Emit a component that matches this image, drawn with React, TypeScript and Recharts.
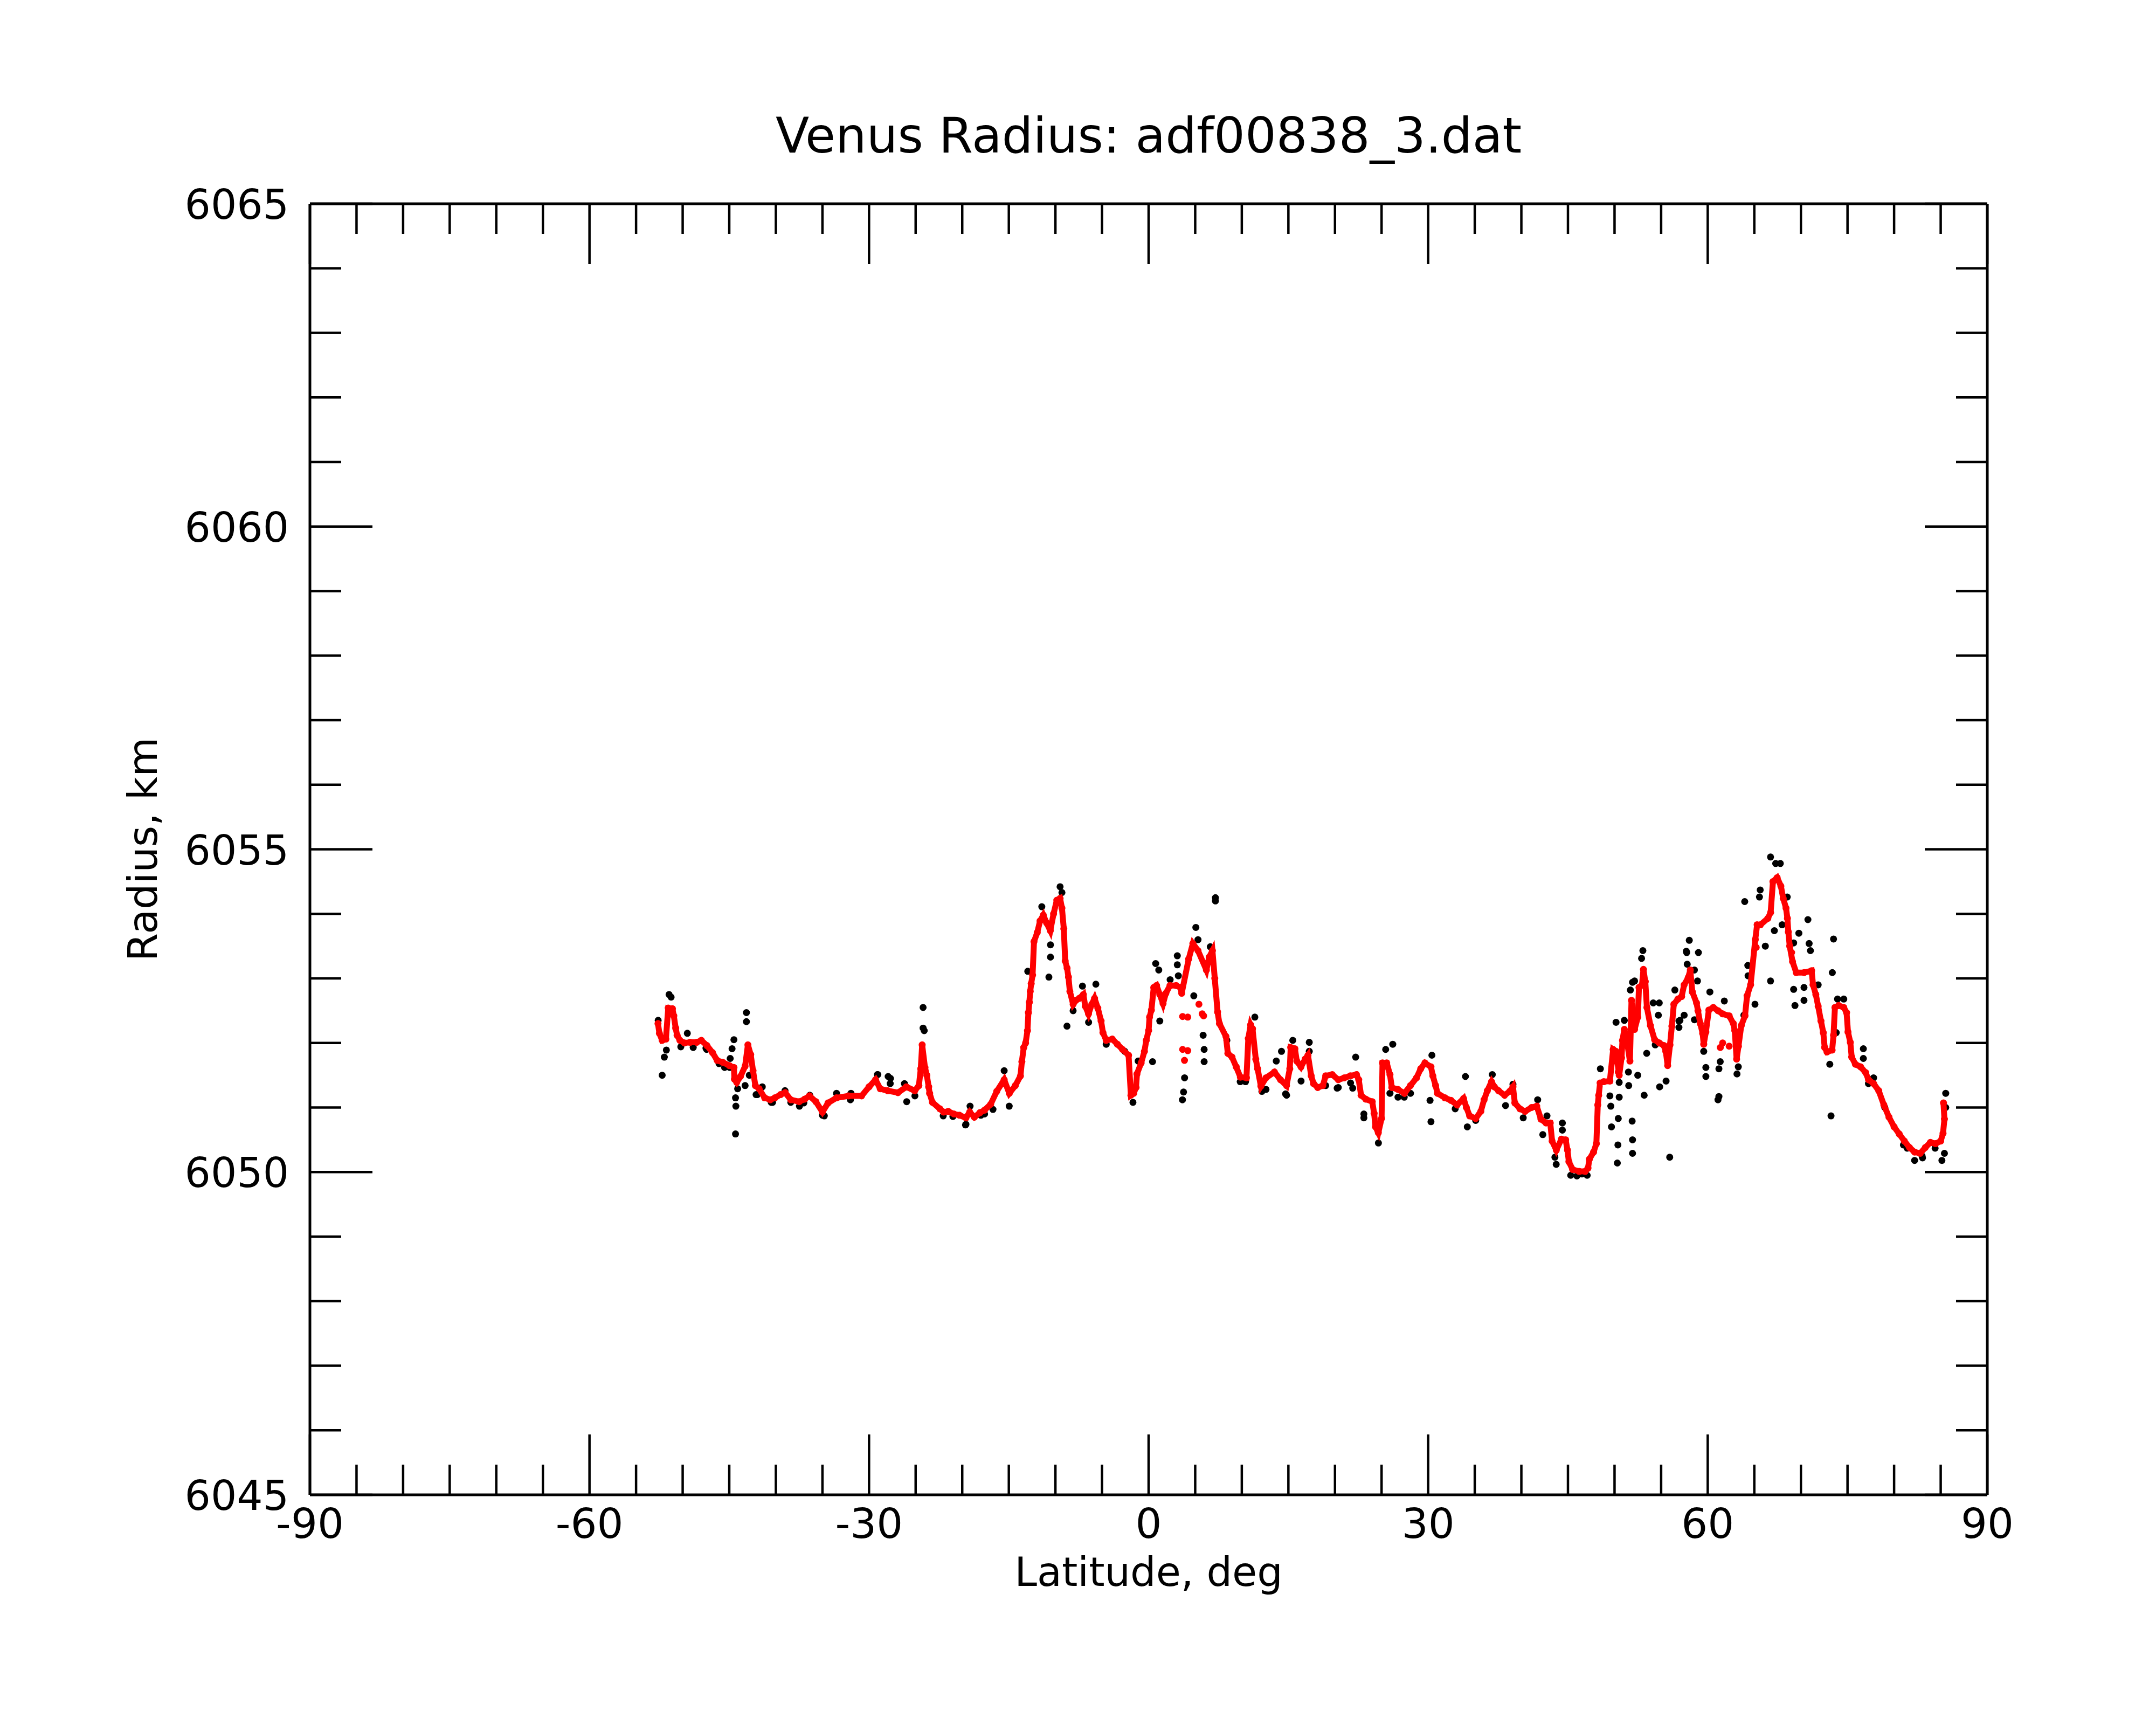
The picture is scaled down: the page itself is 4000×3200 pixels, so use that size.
import { ScatterChart, Scatter, XAxis, YAxis } from "recharts";

// axis ticks
const latTicks = [
  -90, -85, -80, -75, -70, -65, -60, -55, -50, -45, -40, -35, -30, -25, -20, -15, -10, -5,
  0, 5, 10, 15, 20, 25, 30, 35, 40, 45, 50, 55, 60, 65, 70, 75, 80, 85, 90,
];
const latLabels = [-90, -60, -30, 0, 30, 60, 90];
const radiusTicks = [
  6045, 6046, 6047, 6048, 6049, 6050, 6051, 6052, 6053, 6054, 6055,
  6056, 6057, 6058, 6059, 6060, 6061, 6062, 6063, 6064, 6065,
];
const radiusLabels = [6045, 6050, 6055, 6060, 6065];

// smoothed radius (red), [latitude, radius km]
const smoothedTrack: [number, number][] = [
  [-52.65, 6052.3], [-52.5, 6052.15], [-52.2, 6052.04], [-51.8, 6052.06], [-51.55, 6052.54],
  [-51.1, 6052.53], [-50.95, 6052.42], [-50.75, 6052.23], [-50.6, 6052.12], [-50.3, 6052.04],
  [-49.8, 6052.0], [-49.2, 6052.01], [-48.5, 6052.01], [-48.0, 6052.04], [-47.4, 6051.96],
  [-46.8, 6051.85], [-46.3, 6051.73], [-45.7, 6051.7], [-45.0, 6051.65], [-44.5, 6051.62],
  [-44.45, 6051.44], [-44.2, 6051.39], [-43.8, 6051.48], [-43.3, 6051.64], [-43.0, 6051.97],
  [-42.7, 6051.82], [-42.45, 6051.57], [-42.2, 6051.34], [-41.8, 6051.29], [-41.2, 6051.15],
  [-40.6, 6051.12], [-40.1, 6051.15], [-39.5, 6051.2], [-39.0, 6051.23], [-38.4, 6051.12],
  [-37.5, 6051.09], [-36.9, 6051.13], [-36.4, 6051.18], [-35.7, 6051.09], [-35.0, 6050.93],
  [-34.4, 6051.07], [-33.5, 6051.15], [-32.2, 6051.18], [-30.8, 6051.18], [-30.0, 6051.32],
  [-29.3, 6051.43], [-28.8, 6051.29], [-28.0, 6051.26], [-26.9, 6051.23], [-26.0, 6051.32],
  [-25.1, 6051.26], [-24.65, 6051.34], [-24.45, 6051.6], [-24.3, 6051.97], [-24.0, 6051.62],
  [-23.8, 6051.5], [-23.6, 6051.32], [-23.5, 6051.22], [-23.2, 6051.08], [-22.4, 6050.98],
  [-22.0, 6050.93], [-21.5, 6050.94], [-20.9, 6050.9], [-20.3, 6050.88], [-19.6, 6050.84],
  [-19.2, 6050.93], [-18.7, 6050.85], [-18.1, 6050.92], [-17.6, 6050.96], [-16.95, 6051.05],
  [-16.3, 6051.25], [-15.5, 6051.43], [-14.95, 6051.22], [-14.3, 6051.34], [-13.75, 6051.49],
  [-13.6, 6051.71], [-13.4, 6051.93], [-13.2, 6052.0], [-13.0, 6052.19], [-12.9, 6052.47],
  [-12.8, 6052.63], [-12.7, 6052.8], [-12.6, 6052.92], [-12.45, 6053.05], [-12.3, 6053.57],
  [-11.95, 6053.71], [-11.65, 6053.89], [-11.3, 6053.98], [-10.95, 6053.86], [-10.55, 6053.74],
  [-10.2, 6054.0], [-9.85, 6054.21], [-9.5, 6054.24], [-9.3, 6054.09], [-9.1, 6053.77],
  [-8.95, 6053.27], [-8.75, 6053.16], [-8.6, 6053.02], [-8.45, 6052.8], [-8.1, 6052.6],
  [-7.8, 6052.66], [-7.45, 6052.69], [-7.0, 6052.75], [-6.8, 6052.57], [-6.45, 6052.45],
  [-6.1, 6052.6], [-5.8, 6052.69], [-5.45, 6052.54], [-5.1, 6052.34], [-4.9, 6052.16],
  [-4.55, 6052.04], [-3.9, 6052.06], [-3.35, 6051.98], [-2.8, 6051.9], [-2.15, 6051.81],
  [-1.9, 6051.19], [-1.6, 6051.22], [-1.35, 6051.31], [-1.25, 6051.52], [-0.8, 6051.69],
  [-0.45, 6051.87], [-0.25, 6052.04], [0.0, 6052.19], [0.1, 6052.4], [0.3, 6052.51],
  [0.55, 6052.86], [0.85, 6052.89], [1.2, 6052.75], [1.55, 6052.61], [1.85, 6052.77],
  [2.3, 6052.89], [2.95, 6052.89], [3.4, 6052.86], [3.55, 6052.77], [4.3, 6053.3],
  [4.75, 6053.54], [5.3, 6053.43], [6.2, 6053.13], [6.5, 6053.33], [6.85, 6053.43],
  [7.1, 6053.0], [7.4, 6052.48], [7.6, 6052.3], [8.3, 6052.1], [8.5, 6051.84],
  [8.95, 6051.78], [9.4, 6051.63], [9.85, 6051.47], [10.5, 6051.46], [10.7, 6052.07],
  [10.95, 6052.28], [11.15, 6052.22], [11.5, 6051.75], [11.7, 6051.6], [12.05, 6051.33],
  [12.6, 6051.46], [13.5, 6051.55], [14.15, 6051.43], [14.8, 6051.34], [15.15, 6051.6],
  [15.25, 6051.93], [15.7, 6051.91], [15.9, 6051.72], [16.35, 6051.63], [16.8, 6051.75],
  [17.1, 6051.81], [17.45, 6051.49], [17.7, 6051.37], [18.15, 6051.31], [18.7, 6051.34],
  [19.0, 6051.49], [19.7, 6051.51], [20.35, 6051.43], [21.0, 6051.46], [21.65, 6051.49],
  [22.3, 6051.51], [22.55, 6051.43], [22.8, 6051.19], [23.3, 6051.13], [24.0, 6051.09],
  [24.2, 6050.91], [24.35, 6050.7], [24.65, 6050.61], [25.0, 6050.83], [25.1, 6051.69],
  [25.55, 6051.69], [25.9, 6051.51], [26.1, 6051.31], [26.75, 6051.28], [27.45, 6051.22],
  [28.1, 6051.34], [28.75, 6051.46], [29.2, 6051.6], [29.65, 6051.69], [30.3, 6051.63],
  [30.5, 6051.49], [30.8, 6051.34], [31.0, 6051.22], [31.8, 6051.15], [32.45, 6051.11],
  [33.1, 6051.04], [33.8, 6051.14], [34.1, 6051.0], [34.45, 6050.87], [35.1, 6050.83],
  [35.65, 6050.94], [36.0, 6051.12], [36.35, 6051.26], [36.8, 6051.4], [37.1, 6051.32],
  [37.55, 6051.26], [38.2, 6051.19], [38.75, 6051.25], [39.1, 6051.32], [39.3, 6051.07],
  [39.85, 6050.98], [40.4, 6050.94], [41.1, 6051.0], [41.65, 6051.02], [42.1, 6050.82],
  [42.65, 6050.76], [43.1, 6050.76], [43.3, 6050.48], [43.75, 6050.34], [44.3, 6050.51],
  [44.75, 6050.5], [44.95, 6050.34], [45.1, 6050.16], [45.5, 6050.04], [46.2, 6050.01],
  [46.85, 6050.01], [47.15, 6050.06], [47.3, 6050.2], [47.75, 6050.31], [48.05, 6050.44],
  [48.2, 6051.04], [48.3, 6051.19], [48.45, 6051.38], [48.85, 6051.4], [49.5, 6051.41],
  [49.85, 6051.9], [50.15, 6051.87], [50.5, 6051.5], [50.75, 6051.77], [50.85, 6052.04],
  [51.05, 6052.21], [51.4, 6051.96], [51.65, 6051.72], [51.82, 6052.66], [52.15, 6052.21],
  [52.5, 6052.4], [52.62, 6052.86], [52.95, 6052.9], [53.1, 6053.14], [53.3, 6052.95],
  [53.47, 6052.55], [53.85, 6052.27], [54.3, 6052.05], [54.8, 6052.0], [55.3, 6051.96],
  [55.5, 6051.87], [55.7, 6051.65], [55.95, 6051.97], [56.15, 6052.26], [56.36, 6052.6],
  [56.8, 6052.68], [57.2, 6052.72], [57.47, 6052.9], [57.9, 6053.01], [58.13, 6053.13],
  [58.35, 6052.79], [58.8, 6052.62], [58.95, 6052.5], [59.2, 6052.3], [59.45, 6052.15],
  [59.57, 6051.98], [59.8, 6052.17], [60.12, 6052.51], [60.6, 6052.55], [61.1, 6052.5],
  [61.6, 6052.45], [62.3, 6052.42], [62.75, 6052.3], [62.9, 6052.19], [63.1, 6051.75],
  [63.3, 6051.95], [63.6, 6052.27], [64.0, 6052.42], [64.22, 6052.73], [64.6, 6052.9],
  [65.1, 6053.6], [65.3, 6053.83], [65.65, 6053.83], [66.45, 6053.93], [66.75, 6054.02],
  [67.0, 6054.5], [67.45, 6054.56], [67.85, 6054.43], [68.1, 6054.24], [68.4, 6054.09],
  [68.55, 6053.93], [68.65, 6053.72], [68.8, 6053.5], [69.1, 6053.26], [69.5, 6053.09],
  [70.35, 6053.09], [71.15, 6053.12], [71.3, 6052.9], [71.6, 6052.75], [71.85, 6052.57],
  [72.15, 6052.34], [72.4, 6052.16], [72.55, 6051.93], [72.8, 6051.86], [73.35, 6051.89],
  [73.5, 6052.12], [73.65, 6052.55], [74.05, 6052.58], [74.6, 6052.55], [74.9, 6052.47],
  [75.05, 6052.17], [75.3, 6052.01], [75.45, 6051.78], [75.85, 6051.67], [76.4, 6051.63],
  [76.95, 6051.54], [77.25, 6051.43], [77.8, 6051.37], [78.35, 6051.26], [78.9, 6051.04],
  [79.45, 6050.85], [80.0, 6050.7], [80.55, 6050.59], [81.1, 6050.48], [81.65, 6050.38],
  [82.2, 6050.31], [82.8, 6050.29], [83.35, 6050.38], [83.9, 6050.46], [84.45, 6050.44],
  [85.0, 6050.48], [85.25, 6050.6], [85.4, 6050.82], [85.3, 6051.07],
];

// smoothed points off the main track
const smoothedStray: [number, number][] = [
  [3.65, 6052.41], [4.2, 6052.4], [3.65, 6051.9], [4.2, 6051.88], [3.85, 6051.73],
  [5.4, 6052.6], [5.75, 6052.45], [5.9, 6052.42], [61.35, 6051.93], [61.6, 6052.0],
  [62.3, 6051.95], [63.2, 6051.93], [50.4, 6051.55], [65.2, 6053.48], [69.0, 6053.4],
];

// raw radius (black), [latitude, radius km]
const rawPoints: [number, number][] = [
  [-52.63, 6052.35], [-52.2, 6051.5], [-51.97, 6051.78], [-51.75, 6051.89], [-51.46, 6052.75],
  [-51.24, 6052.71], [-50.2, 6051.94], [-49.5, 6052.15], [-48.87, 6051.93], [-47.5, 6051.92],
  [-47.43, 6051.9], [-46.1, 6051.68], [-45.5, 6051.62], [-44.96, 6051.62], [-44.9, 6051.76],
  [-44.7, 6051.91], [-44.5, 6052.05], [-44.33, 6051.15], [-44.29, 6051.02], [-44.33, 6050.59],
  [-44.1, 6051.29], [-43.3, 6051.34], [-43.16, 6052.47], [-43.16, 6052.33], [-42.85, 6051.5],
  [-42.12, 6051.2], [-42.0, 6051.2], [-41.46, 6051.32], [-40.5, 6051.08], [-40.35, 6051.08],
  [-39.02, 6051.26], [-38.4, 6051.08], [-37.47, 6051.02], [-37.0, 6051.07], [-36.36, 6051.19],
  [-35.0, 6050.88], [-34.8, 6050.87], [-33.49, 6051.22], [-32.0, 6051.12], [-31.94, 6051.22],
  [-29.1, 6051.51], [-29.06, 6051.51], [-27.95, 6051.48], [-27.73, 6051.37], [-27.7, 6051.45],
  [-26.2, 6051.37], [-25.96, 6051.09], [-25.08, 6051.18], [-24.2, 6052.55], [-24.2, 6052.23],
  [-24.08, 6052.19], [-22.04, 6050.87], [-21.0, 6050.86], [-19.65, 6050.73], [-19.6, 6050.74],
  [-19.16, 6051.02], [-18.0, 6050.88], [-17.6, 6050.9], [-16.7, 6050.97], [-15.5, 6051.57],
  [-14.96, 6051.02], [-12.97, 6053.11], [-11.46, 6054.11], [-10.53, 6053.52], [-10.53, 6053.33],
  [-10.7, 6053.02], [-9.5, 6054.42], [-9.3, 6054.33], [-8.76, 6052.26], [-8.1, 6052.5],
  [-7.1, 6052.88], [-6.44, 6052.32], [-5.66, 6052.91], [-4.55, 6051.98], [-2.56, 6051.87],
  [-1.68, 6051.08], [-1.12, 6051.72], [0.42, 6051.71], [0.76, 6053.23], [1.09, 6053.13],
  [1.2, 6052.34], [2.31, 6052.98], [3.08, 6053.35], [3.08, 6053.21], [3.19, 6053.04],
  [3.63, 6051.12], [3.75, 6051.24], [3.86, 6051.46], [4.85, 6052.73], [5.07, 6053.79],
  [5.3, 6053.6], [5.85, 6052.12], [5.96, 6051.9], [5.96, 6051.71], [6.62, 6053.49],
  [7.17, 6054.25], [7.17, 6054.2], [8.4, 6052.04], [9.83, 6051.4], [10.4, 6051.4],
  [11.4, 6052.4], [12.16, 6051.25], [12.6, 6051.28], [13.7, 6051.72], [14.26, 6051.87],
  [14.7, 6051.21], [14.81, 6051.19], [15.47, 6052.04], [16.36, 6051.41], [17.24, 6052.01],
  [17.24, 6051.87], [19.0, 6051.34], [20.23, 6051.3], [20.35, 6051.31], [21.67, 6051.38],
  [21.9, 6051.3], [22.22, 6051.78], [23.1, 6050.9], [23.1, 6050.84], [24.66, 6050.45],
  [25.44, 6051.9], [25.9, 6051.22], [26.2, 6051.98], [26.76, 6051.16], [27.43, 6051.16],
  [28.1, 6051.22], [30.2, 6051.11], [30.3, 6050.78], [30.4, 6051.81], [32.9, 6050.98],
  [34.0, 6051.48], [34.2, 6050.7], [35.1, 6050.8], [36.88, 6051.51], [38.3, 6051.03],
  [39.1, 6051.36], [40.2, 6050.84], [41.75, 6051.12], [42.3, 6050.58], [42.75, 6050.87],
  [43.6, 6050.23], [43.74, 6050.12], [44.4, 6050.76], [44.4, 6050.65], [45.3, 6049.95],
  [45.96, 6049.94], [46.5, 6049.97], [47.06, 6049.95], [48.48, 6051.6], [49.5, 6051.18],
  [49.6, 6051.02], [49.67, 6050.7], [50.16, 6052.32], [50.3, 6050.14], [50.36, 6050.42],
  [50.4, 6050.83], [50.5, 6051.39], [50.5, 6051.16], [51.05, 6052.35], [51.49, 6051.55],
  [51.52, 6051.34], [51.7, 6052.82], [51.89, 6050.79], [51.93, 6050.29], [51.93, 6050.5],
  [51.93, 6052.94], [52.15, 6052.96], [52.49, 6051.5], [52.9, 6053.31], [53.04, 6053.43],
  [53.18, 6051.19], [53.45, 6051.84], [54.15, 6052.62], [54.37, 6051.97], [54.7, 6052.43],
  [54.8, 6052.62], [54.84, 6051.32], [55.53, 6051.41], [55.92, 6050.23], [56.47, 6052.82],
  [56.91, 6052.34], [56.91, 6052.24], [57.02, 6052.35], [57.47, 6052.43], [57.7, 6053.42],
  [57.74, 6053.4], [57.8, 6053.22], [58.02, 6053.59], [58.57, 6053.13], [58.57, 6052.36],
  [58.9, 6052.96], [59.0, 6053.4], [59.57, 6051.87], [59.8, 6051.62], [59.8, 6051.48],
  [60.23, 6052.79], [61.1, 6051.12], [61.2, 6051.17], [61.2, 6051.6], [61.34, 6051.71],
  [61.78, 6052.65], [63.14, 6051.52], [63.28, 6051.63], [63.88, 6052.43], [63.97, 6054.19],
  [64.3, 6053.2], [64.33, 6053.04], [65.07, 6052.6], [65.55, 6054.26], [65.63, 6054.37],
  [66.18, 6053.5], [66.74, 6054.88], [66.74, 6052.96], [67.15, 6053.74], [67.29, 6054.78],
  [67.79, 6054.78], [67.98, 6053.83], [68.53, 6054.26], [69.22, 6053.55], [69.22, 6052.83],
  [69.36, 6052.58], [69.78, 6053.7], [70.33, 6052.86], [70.33, 6052.66], [70.75, 6053.91],
  [70.88, 6053.54], [71.02, 6053.43], [71.85, 6052.9], [73.1, 6051.67], [73.23, 6050.87],
  [73.37, 6053.09], [73.5, 6053.61], [73.79, 6052.16], [73.93, 6052.68], [74.6, 6052.68],
  [76.7, 6051.91], [76.7, 6051.76], [77.25, 6051.37], [77.8, 6051.46], [79.0, 6051.0],
  [81.0, 6050.42], [81.4, 6050.37], [82.2, 6050.18], [83.0, 6050.25], [83.05, 6050.22],
  [84.4, 6050.37], [85.13, 6050.18], [85.4, 6050.29], [85.54, 6051.0], [85.54, 6051.22],
];

const FONT = "'DejaVu Sans', sans-serif";
const TICK_W = 4.5;

const toRows = (pts: [number, number][]) => pts.map(([lat, r]) => ({ lat, r }));

function BottomTick({ x, y, payload }: any) {
  const major = latLabels.includes(payload.value);
  return (
    <g>
      <line x1={x} y1={y} x2={x} y2={y - (major ? 112 : 56)} stroke="#000" strokeWidth={TICK_W} />
      {major && (
        <text x={x} y={y + 80} textAnchor="middle" fontSize={77} fontFamily={FONT} fill="#000">
          {payload.value}
        </text>
      )}
    </g>
  );
}

function TopTick({ x, y, payload }: any) {
  const major = latLabels.includes(payload.value);
  return <line x1={x} y1={y} x2={x} y2={y + (major ? 112 : 56)} stroke="#000" strokeWidth={TICK_W} />;
}

function LeftTick({ x, y, payload }: any) {
  const major = radiusLabels.includes(payload.value);
  return (
    <g>
      <line x1={x} y1={y} x2={x + (major ? 116 : 58)} y2={y} stroke="#000" strokeWidth={TICK_W} />
      {major && (
        <text x={x - 39} y={y + 28} textAnchor="end" fontSize={76} fontFamily={FONT} fill="#000">
          {payload.value}
        </text>
      )}
    </g>
  );
}

function RightTick({ x, y, payload }: any) {
  const major = radiusLabels.includes(payload.value);
  return <line x1={x} y1={y} x2={x - (major ? 116 : 58)} y2={y} stroke="#000" strokeWidth={TICK_W} />;
}

const redDot = (p: any) => <circle cx={p.cx} cy={p.cy} r={6.5} fill="#ff0000" />;
const blackDot = (p: any) => <circle cx={p.cx} cy={p.cy} r={6.5} fill="#000000" />;

const axisLine = { stroke: "#000", strokeWidth: 5 };

export default function App() {
  return (
    <div style={{ position: "absolute", left: 0, top: 0, width: 4000, height: 3200, background: "#fff" }}>
      <ScatterChart width={4000} height={3200} margin={{ top: 368, right: 303, bottom: 227, left: 275 }}>
        <XAxis
          xAxisId="b"
          type="number"
          dataKey="lat"
          domain={[-90, 90]}
          allowDataOverflow
          ticks={latTicks}
          interval={0}
          height={200}
          tickSize={0}
          tickMargin={0}
          tickLine={false}
          axisLine={axisLine}
          tick={(p: any) => <BottomTick {...p} />}
        />
        <XAxis
          xAxisId="t"
          orientation="top"
          type="number"
          dataKey="lat"
          domain={[-90, 90]}
          allowDataOverflow
          ticks={latTicks}
          interval={0}
          height={10}
          tickSize={0}
          tickMargin={0}
          tickLine={false}
          axisLine={axisLine}
          tick={(p: any) => <TopTick {...p} />}
        />
        <YAxis
          yAxisId="l"
          type="number"
          dataKey="r"
          domain={[6045, 6065]}
          allowDataOverflow
          ticks={radiusTicks}
          interval={0}
          width={300}
          tickSize={0}
          tickMargin={0}
          tickLine={false}
          axisLine={axisLine}
          tick={(p: any) => <LeftTick {...p} />}
        />
        <YAxis
          yAxisId="r"
          orientation="right"
          type="number"
          dataKey="r"
          domain={[6045, 6065]}
          allowDataOverflow
          ticks={radiusTicks}
          interval={0}
          width={10}
          tickSize={0}
          tickMargin={0}
          tickLine={false}
          axisLine={axisLine}
          tick={(p: any) => <RightTick {...p} />}
        />
        <Scatter
          name="raw"
          data={toRows(rawPoints)}
          xAxisId="t"
          yAxisId="r"
          shape={blackDot}
          isAnimationActive={false}
        />
        <Scatter
          name="smoothed"
          data={toRows(smoothedTrack)}
          xAxisId="b"
          yAxisId="l"
          shape={redDot}
          line={{ stroke: "#ff0000", strokeWidth: 11 }}
          lineJointType="linear"
          isAnimationActive={false}
        />
        <Scatter
          name="smoothedStray"
          data={toRows(smoothedStray)}
          xAxisId="b"
          yAxisId="l"
          shape={redDot}
          isAnimationActive={false}
        />
      </ScatterChart>
      <div
        style={{
          position: "absolute",
          left: 0,
          width: 4262,
          top: 207,
          textAlign: "center",
          fontFamily: FONT,
          fontSize: 91,
          lineHeight: "90px",
          whiteSpace: "nowrap",
        }}
      >
        Venus Radius: adf00838_3.dat
      </div>
      <div
        style={{
          position: "absolute",
          left: 2131,
          top: 2886,
          transform: "translateX(-50%)",
          fontFamily: FONT,
          fontSize: 75,
          lineHeight: "60px",
          whiteSpace: "nowrap",
        }}
      >
        Latitude, deg
      </div>
      <div
        style={{
          position: "absolute",
          left: 265 - 500,
          top: 1575 - 37.5,
          width: 1000,
          height: 75,
          textAlign: "center",
          fontFamily: FONT,
          fontSize: 75,
          lineHeight: "75px",
          whiteSpace: "nowrap",
          transform: "rotate(-90deg)",
          transformOrigin: "50% 50%",
        }}
      >
        Radius, km
      </div>
    </div>
  );
}
